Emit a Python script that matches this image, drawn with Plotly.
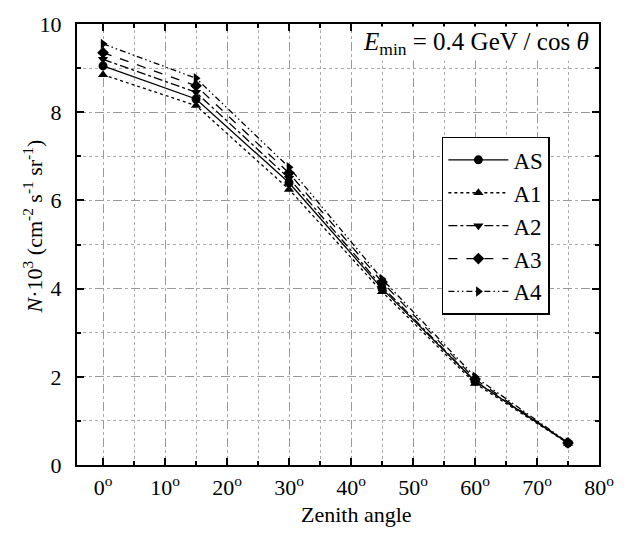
import plotly.graph_objects as go

angles = [0, 15, 30, 45, 60, 75]
series_names = ["AS", "A1", "A2", "A3", "A4"]
AS = [9.05, 8.30, 6.40, 4.00, 1.90, 0.50]
A1 = [8.85, 8.15, 6.25, 3.93, 1.85, 0.49]
A2 = [9.20, 8.45, 6.50, 4.05, 1.90, 0.50]
A3 = [9.35, 8.60, 6.62, 4.15, 1.95, 0.50]
A4 = [9.55, 8.77, 6.75, 4.22, 2.00, 0.51]
x_tick_vals = [0, 10, 20, 30, 40, 50, 60, 70, 80]
x_tick_text = [f"{v}<sup>o</sup>" for v in x_tick_vals]
y_tick_vals = [0, 2, 4, 6, 8, 10]

values = [AS, A1, A2, A3, A4]
symbols = ["circle", "triangle-up", "triangle-down", "diamond", "triangle-right"]
dashes = ["solid", "dot", "dashdot", "dash", "6px,3px,1.5px,3px,1.5px,3px"]

FONT = "Times New Roman, Liberation Serif, Tinos, serif"

fig = go.Figure()
for name, vals, sym, dash in zip(series_names, values, symbols, dashes):
    fig.add_trace(go.Scatter(
        x=angles, y=vals, name=name, mode="lines+markers",
        line=dict(color="black", width=1.3, dash=dash),
        marker=dict(symbol=sym, size=9, color="black"),
    ))

fig.update_layout(
    width=626, height=534,
    margin=dict(l=77, r=27, t=12, b=69),
    paper_bgcolor="white", plot_bgcolor="white",
    font=dict(family=FONT, size=22, color="black"),
    showlegend=True,
    legend=dict(
        x=0.699, y=0.744, xanchor="left", yanchor="top",
        bordercolor="black", borderwidth=1.5, bgcolor="white",
        font=dict(family=FONT, size=23),
        tracegroupgap=0, itemwidth=60,
    ),
    xaxis=dict(
        range=[-4.2, 80], tickvals=x_tick_vals, ticktext=x_tick_text,
        showline=True, linecolor="black", linewidth=2, mirror="ticks",
        ticks="inside", ticklen=7, tickcolor="black", tickwidth=1.5,
        showgrid=True, gridcolor="#999999", griddash="dash", gridwidth=1,
        minor=dict(dtick=5, tick0=0, ticks="inside", ticklen=4, tickcolor="black",
                   showgrid=True, gridcolor="#aaaaaa", griddash="dot", gridwidth=1),
        zeroline=False, ticklabelstandoff=2,
        tickfont=dict(family=FONT, size=22),
    ),
    yaxis=dict(
        range=[0, 10], tickvals=y_tick_vals,
        showline=True, linecolor="black", linewidth=2, mirror="ticks",
        ticks="inside", ticklen=7, tickcolor="black", tickwidth=1.5,
        showgrid=True, gridcolor="#999999", griddash="dash", gridwidth=1,
        minor=dict(dtick=1, tick0=0, ticks="inside", ticklen=4, tickcolor="black",
                   showgrid=True, gridcolor="#aaaaaa", griddash="dot", gridwidth=1),
        zeroline=False, ticklabelstandoff=9,
        tickfont=dict(family=FONT, size=22),
    ),
)

fig.add_annotation(
    xref="paper", yref="paper", x=-0.0843, y=0.541, xanchor="center", yanchor="middle",
    text="<i>N</i>·10<sup>3</sup> (cm<sup>-2</sup> s<sup>-1</sup> sr<sup>-1</sup>)",
    textangle=-90, showarrow=False, font=dict(family=FONT, size=22),
)

fig.add_annotation(
    xref="paper", yref="paper", x=0.5345, y=-0.112, xanchor="center", yanchor="middle",
    text="Zenith angle", showarrow=False, font=dict(family=FONT, size=22),
)

fig.add_annotation(
    xref="paper", yref="paper", x=0.985, y=0.995, xanchor="right", yanchor="top",
    text="<i>E</i><sub>min</sub> = 0.4 GeV / cos <i>θ</i>",
    showarrow=False, bgcolor="white", font=dict(family=FONT, size=25),
)

fig.write_html("out.html")
